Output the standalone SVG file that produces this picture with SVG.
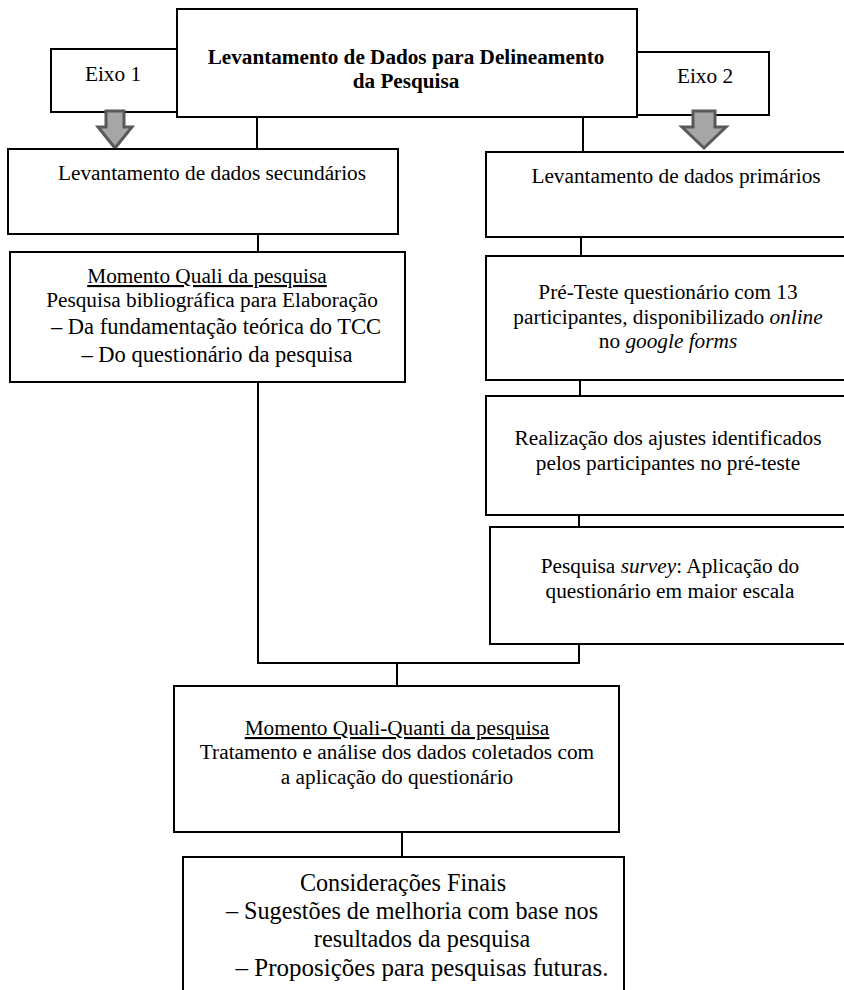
<svg xmlns="http://www.w3.org/2000/svg" width="844" height="990" viewBox="0 0 844 990" font-family="'Liberation Serif', 'Times New Roman', serif">
<defs>
<style>
.box{fill:#fff;stroke:#000;stroke-width:2}
.ln{fill:none;stroke:#000;stroke-width:2}
.arr{fill:#a6a6a6;stroke:#595959;stroke-width:3;stroke-linejoin:miter}
text{font-family:'Liberation Serif','Times New Roman',serif;fill:#000;text-anchor:middle;font-size:21.3px}
.b{font-weight:bold;font-size:21.2px}
.u{text-decoration:underline}
.m{font-size:22.5px}
.big{font-size:24.2px}
.big2{font-size:25px}
.i{font-style:italic}
</style>
</defs>
<rect width="844" height="990" fill="#fff"/>
<g id="connectors">
<line class="ln" x1="257" y1="117" x2="257" y2="150"/>
<line class="ln" x1="583" y1="117" x2="583" y2="152"/>
<line class="ln" x1="258" y1="234" x2="258" y2="252"/>
<line class="ln" x1="581" y1="237" x2="581" y2="256"/>
<line class="ln" x1="580" y1="380" x2="580" y2="396"/>
<line class="ln" x1="579" y1="515" x2="579" y2="527"/>
<polyline class="ln" points="258,382 258,663 579,663 579,644"/>
<line class="ln" x1="397" y1="663" x2="397" y2="686"/>
<line class="ln" x1="402" y1="832" x2="402" y2="857"/>
</g>
<g id="eixo1">
<rect class="box" x="51" y="49" width="130" height="63"/>
<text x="113" y="81">Eixo 1</text>
</g>
<g id="eixo2">
<rect class="box" x="636" y="52" width="133" height="63"/>
<text x="705" y="83">Eixo 2</text>
</g>
<g id="title">
<rect class="box" x="177" y="9" width="460" height="108"/>
<text class="b" x="406" y="64">Levantamento de Dados para Delineamento</text>
<text class="b" x="406" y="88">da Pesquisa</text>
</g>
<g id="arrow1">
<polygon class="arr" points="106,111 124,111 124,127 132,127 115,148 98,127 106,127"/>
</g>
<g id="arrow2">
<polygon class="arr" points="693,111 715,111 715,127 726,127 704,148 682,127 693,127"/>
</g>
<g id="secundarios">
<rect class="box" x="8" y="149" width="390" height="85"/>
<text x="212" y="180">Levantamento de dados secundários</text>
</g>
<g id="primarios">
<rect class="box" x="486" y="152" width="370" height="85"/>
<text x="676" y="183">Levantamento de dados primários</text>
</g>
<g id="quali">
<rect class="box" x="10" y="252" width="395" height="130"/>
<text class="u" x="207" y="283">Momento Quali da pesquisa</text>
<text x="212" y="307">Pesquisa bibliográfica para Elaboração</text>
<text class="m" x="216" y="334">– Da fundamentação teórica do TCC</text>
<text class="m" x="217" y="362">– Do questionário da pesquisa</text>
</g>
<g id="preteste">
<rect class="box" x="486" y="256" width="370" height="124"/>
<text x="668" y="299">Pré-Teste questionário com 13</text>
<text x="668" y="324">participantes, disponibilizado <tspan class="i">online</tspan></text>
<text x="668" y="348">no <tspan class="i">google forms</tspan></text>
</g>
<g id="ajustes">
<rect class="box" x="486" y="396" width="370" height="119"/>
<text x="668" y="445">Realização dos ajustes identificados</text>
<text x="668" y="470">pelos participantes no pré-teste</text>
</g>
<g id="survey">
<rect class="box" x="490" y="527" width="366" height="117"/>
<text x="670" y="573">Pesquisa <tspan class="i">survey</tspan>: Aplicação do</text>
<text x="670" y="598">questionário em maior escala</text>
</g>
<g id="qualiquanti">
<rect class="box" x="174" y="686" width="445" height="146"/>
<text class="u" x="397" y="735">Momento Quali-Quanti da pesquisa</text>
<text x="397" y="759">Tratamento e análise dos dados coletados com</text>
<text x="397" y="784">a aplicação do questionário</text>
</g>
<g id="finais">
<rect class="box" x="183" y="857" width="441" height="150"/>
<text class="big" x="403" y="891">Considerações Finais</text>
<text class="big" x="412" y="919">– Sugestões de melhoria com base nos</text>
<text class="big" x="422" y="947">resultados da pesquisa</text>
<text class="big2" x="422" y="976">– Proposições para pesquisas futuras.</text>
</g>
</svg>
